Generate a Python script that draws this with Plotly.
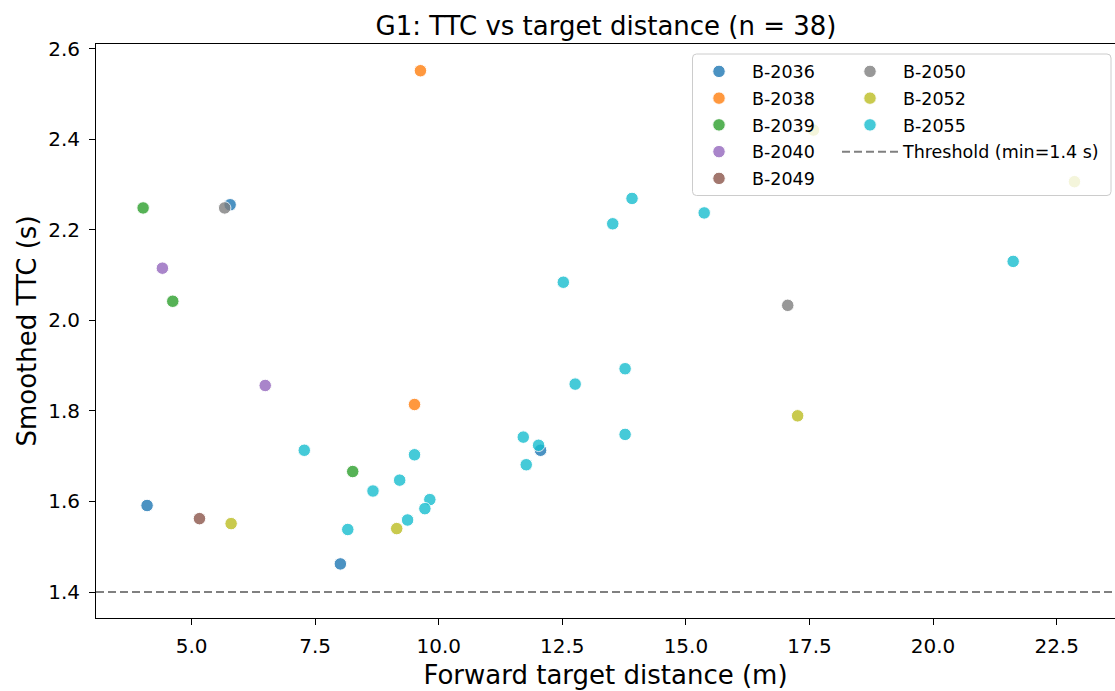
import plotly.graph_objects as go

# ---- data ----
groups = ["B-2036", "B-2038", "B-2039", "B-2040", "B-2049", "B-2050", "B-2052", "B-2055"]
colors = ["#1f77b4", "#ff7f0e", "#2ca02c", "#9467bd", "#8c564b", "#7f7f7f", "#bcbd22", "#17becf"]

x_2036 = [5.78, 8.01, 12.06, 4.10]
y_2036 = [2.255, 1.462, 1.713, 1.591]
x_2038 = [9.63, 9.51]
y_2038 = [2.551, 1.814]
x_2039 = [4.02, 4.62, 8.26]
y_2039 = [2.248, 2.042, 1.666]
x_2040 = [4.41, 6.49]
y_2040 = [2.115, 1.856]
x_2049 = [5.16]
y_2049 = [1.562]
x_2050 = [5.67, 17.06]
y_2050 = [2.248, 2.033]
x_2052 = [5.80, 9.15, 17.26, 17.58, 22.86]
y_2052 = [1.551, 1.540, 1.789, 2.420, 2.306]
x_2055 = [12.76, 7.28, 9.51, 11.71, 12.02, 11.77, 9.21, 8.67, 9.82, 9.72,
          9.37, 8.16, 13.91, 13.52, 15.37, 12.52, 13.77, 13.77, 21.62]
y_2055 = [1.859, 1.713, 1.703, 1.742, 1.724, 1.681, 1.647, 1.623, 1.604, 1.584,
          1.559, 1.538, 2.269, 2.213, 2.237, 2.084, 1.893, 1.748, 2.130]

xs = [x_2036, x_2038, x_2039, x_2040, x_2049, x_2050, x_2052, x_2055]
ys = [y_2036, y_2038, y_2039, y_2040, y_2049, y_2050, y_2052, y_2055]

threshold = 1.4
threshold_name = "Threshold (min=1.4 s)"
n_points = sum(len(v) for v in xs)

x_range = [3.067, 23.68]
y_range = [1.3426, 2.610]
x_ticks = [5.0, 7.5, 10.0, 12.5, 15.0, 17.5, 20.0, 22.5]
y_ticks = [1.4, 1.6, 1.8, 2.0, 2.2, 2.4, 2.6]

FONT = "DejaVu Sans"

fig = go.Figure()

# threshold line
fig.add_trace(go.Scatter(
    x=x_range, y=[threshold, threshold], mode="lines",
    line=dict(color="rgba(128,128,128,1)", width=2, dash="8px,4px"),
    name=threshold_name, legend="legend2", legendrank=40,
    legendgroup="thr", hoverinfo="skip"))

for i, (g, c, xv, yv) in enumerate(zip(groups, colors, xs, ys)):
    leg = "legend" if i < 5 else "legend2"
    fig.add_trace(go.Scatter(
        x=xv, y=yv, mode="markers", name=g,
        marker=dict(color=c, size=12.5, opacity=0.8,
                    line=dict(color="white", width=1)),
        legend=leg, legendrank=i + 1, legendgroup=g))

# legend frame (semi-transparent white, drawn over the points)
L, R, T, B = 692.5, 1111, 54, 195.5
W, H = 1115, 691
ml, mr, mt, mb = 96, 0, 44, 73
pw, ph = W - ml - mr, H - mt - mb
def px(x):
    return (x - ml) / pw
def py(y):
    return (H - mb - y) / ph
r = 4
path = (f"M {px(L + r)},{py(T)} L {px(R - r)},{py(T)} Q {px(R)},{py(T)} {px(R)},{py(T + r)} "
        f"L {px(R)},{py(B - r)} Q {px(R)},{py(B)} {px(R - r)},{py(B)} "
        f"L {px(L + r)},{py(B)} Q {px(L)},{py(B)} {px(L)},{py(B - r)} "
        f"L {px(L)},{py(T + r)} Q {px(L)},{py(T)} {px(L + r)},{py(T)} Z")
fig.add_shape(type="path", path=path, xref="paper", yref="paper",
              fillcolor="rgba(255,255,255,0.8)",
              line=dict(color="rgba(204,204,204,1)", width=1), layer="above")

ITEMW = 56
legend_common = dict(
    bgcolor="rgba(0,0,0,0)", borderwidth=0,
    font=dict(family=FONT, size=17.5, color="black"),
    xanchor="left", yanchor="top", tracegroupgap=1, itemwidth=ITEMW,
    itemclick=False, itemdoubleclick=False,
)
off = ITEMW / 2 + 5

fig.update_layout(
    width=W, height=H,
    margin=dict(l=ml, r=mr, t=mt, b=mb, autoexpand=False),
    paper_bgcolor="white", plot_bgcolor="white",
    font=dict(family=FONT, size=20, color="black"),
    title=dict(text=f"G1: TTC vs target distance (n = {n_points})",
               xref="container", x=606 / W, xanchor="center",
               y=1 - 26 / H, yanchor="middle",
               font=dict(family=FONT, size=26, color="black")),
    showlegend=True,
    legend=dict(x=px(719 - off), y=py(53.5), **legend_common),
    legend2=dict(x=px(870 - off), y=py(53.5), **legend_common),
    xaxis=dict(range=x_range, tickvals=x_ticks,
               ticktext=[f"{v:.1f}" for v in x_ticks],
               showgrid=False, zeroline=False, automargin=False,
               showline=True, linecolor="black", linewidth=1, mirror=True,
               ticks="outside", ticklen=6, tickwidth=1, tickcolor="black",
               ticklabelstandoff=4,
               tickfont=dict(family=FONT, size=20, color="black"),
               title=dict(text="Forward target distance (m)", standoff=8,
                          font=dict(family=FONT, size=26, color="black"))),
    yaxis=dict(range=y_range, tickvals=y_ticks,
               ticktext=[f"{v:.1f}" for v in y_ticks],
               showgrid=False, zeroline=False, automargin=False,
               showline=True, linecolor="black", linewidth=1, mirror=False,
               ticks="outside", ticklen=6, tickwidth=1, tickcolor="black",
               ticklabelstandoff=5,
               tickfont=dict(family=FONT, size=20, color="black"),
               title=dict(text="Smoothed TTC (s)", standoff=4,
                          font=dict(family=FONT, size=26, color="black"))),
)

fig.write_html("out.html", config={"displayModeBar": False},
               post_script="document.body.style.margin='0';document.body.style.overflow='hidden';")
